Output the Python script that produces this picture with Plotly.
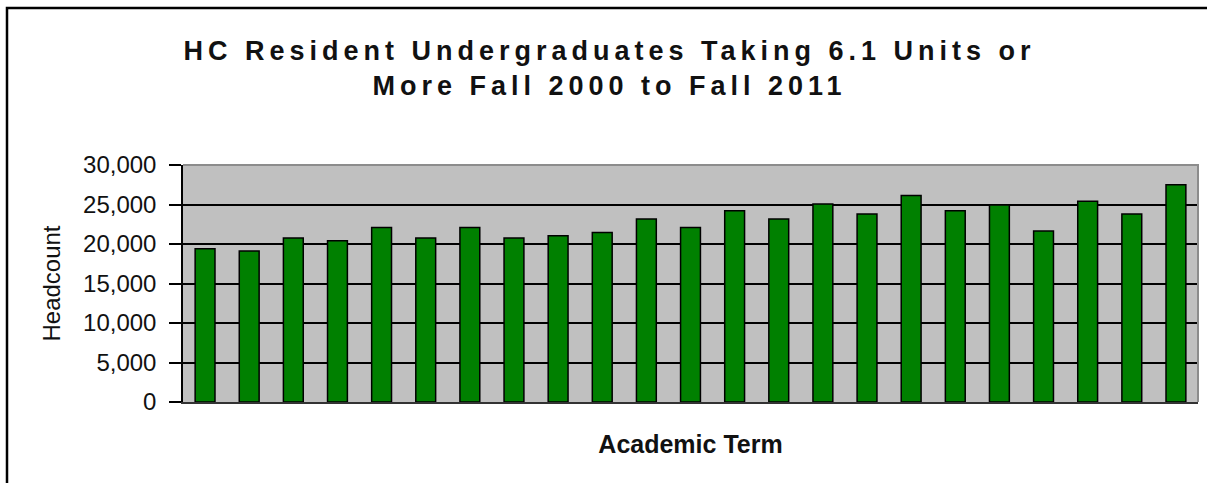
import plotly.graph_objects as go

# Academic terms, Fall 2000 through Fall 2011
terms = [
    "Fall 2000", "Spring 2001", "Fall 2001", "Spring 2002", "Fall 2002",
    "Spring 2003", "Fall 2003", "Spring 2004", "Fall 2004", "Spring 2005",
    "Fall 2005", "Spring 2006", "Fall 2006", "Spring 2007", "Fall 2007",
    "Spring 2008", "Fall 2008", "Spring 2009", "Fall 2009", "Spring 2010",
    "Fall 2010", "Spring 2011", "Fall 2011",
]

# Resident undergraduates taking 6.1 units or more (headcount)
headcount = [
    19400, 19100, 20750, 20400, 22100,
    20750, 22100, 20750, 21050, 21450,
    23150, 22100, 24200, 23150, 25050,
    23800, 26150, 24200, 24950, 21650,
    25400, 23800, 27500,
]

y_ticks = [0, 5000, 10000, 15000, 20000, 25000, 30000]
y_tick_text = ["0", "5,000", "10,000", "15,000", "20,000", "25,000", "30,000"]

W, H = 1207, 483
ML, MR, MT, MB = 183, 9, 165, 81
plot_w = W - ML - MR
plot_h = H - MT - MB


def px_to_paper_x(px):
    return (px - ML) / plot_w


def px_to_paper_y(py):
    return (H - MB - py) / plot_h


fig = go.Figure(
    go.Bar(
        x=terms,
        y=headcount,
        marker=dict(color="#008000", line=dict(color="#000000", width=1.5)),
        hoverinfo="x+y",
    )
)

fig.update_layout(
    template="none",
    width=W,
    height=H,
    margin=dict(l=ML, r=MR, t=MT, b=MB, pad=0),
    paper_bgcolor="#FFFFFF",
    plot_bgcolor="#C0C0C0",
    bargap=0.55,
    showlegend=False,
    font=dict(family="Liberation Sans, Arial, sans-serif", color="#000000"),
    title=dict(
        text="HC Resident Undergraduates Taking 6.1 Units or<br>More Fall 2000 to Fall 2011",
        x=0.505,
        xref="container",
        xanchor="center",
        y=1 - 60 / H,
        yref="container",
        yanchor="top",
        font=dict(family="Liberation Sans, Arial, sans-serif", size=27,
                  color="#111111", weight="bold"),
    ),
    xaxis=dict(
        type="category",
        showticklabels=False,
        ticks="",
        showgrid=False,
        showline=True,
        linecolor="#333333",
        linewidth=1.5,
        zeroline=False,
        automargin=False,
        title=dict(
            text="Academic Term",
            standoff=33,
            font=dict(family="Liberation Sans, Arial, sans-serif", size=25,
                      color="#111111", weight="bold"),
        ),
    ),
    yaxis=dict(
        range=[0, 30000],
        tickmode="array",
        tickvals=y_ticks,
        ticktext=y_tick_text,
        ticks="outside",
        ticklen=12,
        tickwidth=1.5,
        tickcolor="#000000",
        ticklabelstandoff=8,
        tickfont=dict(size=24, color="#111111"),
        showgrid=True,
        gridcolor="#000000",
        gridwidth=1.5,
        showline=True,
        linecolor="#000000",
        linewidth=1.5,
        zeroline=False,
        automargin=False,
        title=dict(
            text="Headcount",
            standoff=16,
            font=dict(family="Liberation Sans, Arial, sans-serif", size=24,
                      color="#111111"),
        ),
    ),
    shapes=[
        # gray plot-area border along the top and right edges
        dict(type="path", xref="paper", yref="paper",
             path="M 0,1 L 1,1 L 1,0",
             line=dict(color="#8C8C8C", width=2), layer="above"),
        # outer chart frame (runs past the right and bottom edges of the page)
        dict(type="rect", xref="paper", yref="paper",
             x0=px_to_paper_x(7), x1=px_to_paper_x(W + 10),
             y0=px_to_paper_y(H + 10), y1=px_to_paper_y(8),
             line=dict(color="#000000", width=2.5), layer="above"),
    ],
)

# Spread the title letters the way the original chart renders them
title_spacing = """
var gd = document.getElementById('{plot_id}');
function spaceTitle() {
  var t = gd.querySelector('.gtitle');
  if (t) { t.style.letterSpacing = '5px'; }
}
spaceTitle();
gd.on('plotly_afterplot', spaceTitle);
"""

fig.write_html("out.html", post_script=title_spacing)
